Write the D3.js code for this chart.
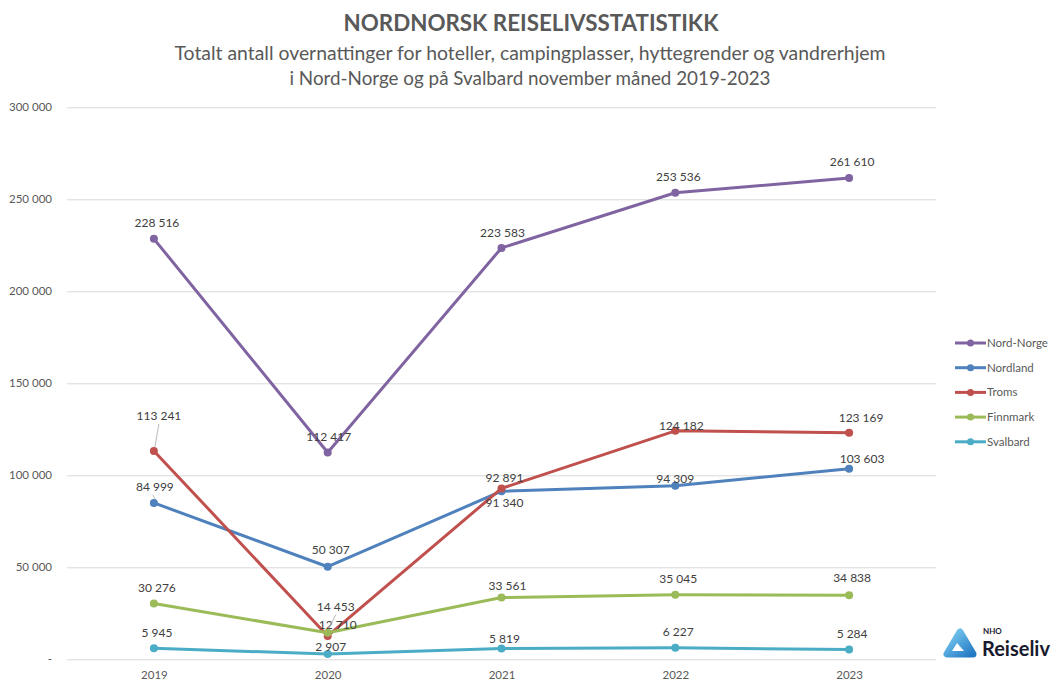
<!DOCTYPE html>
<html>
<head>
<meta charset="utf-8">
<script src="https://cdn.jsdelivr.net/npm/d3@7"></script>
<style>
  html, body { margin: 0; padding: 0; background: #ffffff; }
  svg { display: block; }
  text { font-family: Lato, "Open Sans", "DejaVu Sans", sans-serif; }
</style>
</head>
<body>
<svg id="chart" width="1060" height="689"></svg>
<script>
// ---------- DATA ----------
const years = ["2019", "2020", "2021", "2022", "2023"];
const seriesNames = ["Nord-Norge", "Nordland", "Troms", "Finnmark", "Svalbard"];
const nordNorge = [228516, 112417, 223583, 253536, 261610];
const nordland  = [84999, 50307, 91340, 94309, 103603];
const troms     = [113241, 12710, 92891, 124182, 123169];
const finnmark  = [30276, 14453, 33561, 35045, 34838];
const svalbard  = [5945, 2907, 5819, 6227, 5284];
const yTicks = [0, 50000, 100000, 150000, 200000, 250000, 300000];
const titleText = "NORDNORSK REISELIVSSTATISTIKK";
const subtitleLines = [
  "Totalt antall overnattinger for hoteller, campingplasser, hyttegrender og vandrerhjem",
  "i Nord-Norge og på Svalbard november måned 2019-2023"
];

// ---------- STYLE / LAYOUT ----------
const colors = ["#8064a2", "#4f81bd", "#c0504d", "#9bbb59", "#4bacc6"];
const allValues = [nordNorge, nordland, troms, finnmark, svalbard];
const series = seriesNames.map((name, i) => ({
  name, color: colors[i],
  values: years.map((y, j) => ({ year: y, value: allValues[i][j] }))
}));

// label offsets [dx, dy] of label centre relative to point (layout only)
const labelOffsets = [
  [[3,-16],[1,-16],[1,-15],[3,-16],[3,-16]],
  [[1,-16],[3,-17],[3,12],[0,-7],[13,-10]],
  [[5,-35],[10,-11],[3,-11],[6,-5],[12,-15]],
  [[3,-16],[8,-26],[6,-12],[3,-16],[3,-17]],
  [[3,-16],[3,-7],[3,-10],[3,-16],[3,-16]]
];
const leaders = { "2-0": true, "3-1": true, "1-0": true };

const svg = d3.select("#chart");
const plot = { left: 67, right: 936, top: 107.3, bottom: 659.3 };

const loc = d3.formatLocale({ decimal: ",", thousands: " ", grouping: [3], currency: ["", ""] });
const fmt = loc.format(",d");

const x = d3.scalePoint().domain(years).range([plot.left, plot.right]).padding(0.5);
const y = d3.scaleLinear().domain([0, 300000]).range([plot.bottom, plot.top]);

// ---------- TITLES ----------
svg.append("text")
  .attr("x", 531).attr("y", 30.5)
  .attr("text-anchor", "middle")
  .attr("font-size", 22).attr("font-weight", 700)
  .attr("fill", "#595959")
  .attr("textLength", 375).attr("lengthAdjust", "spacingAndGlyphs")
  .text(titleText);

const subW = [711, 481];
const subY = [59.5, 84.5];
subtitleLines.forEach((t, i) => {
  svg.append("text")
    .attr("x", 530).attr("y", subY[i])
    .attr("text-anchor", "middle")
    .attr("font-size", 19.5)
    .attr("fill", "#595959")
    .attr("textLength", subW[i]).attr("lengthAdjust", "spacingAndGlyphs")
    .text(t);
});

// ---------- GRID + AXES ----------
const yAxis = d3.axisLeft(y).tickValues(yTicks)
  .tickSize(-(plot.right - plot.left))
  .tickPadding(15)
  .tickFormat(d => d === 0 ? "-" : fmt(d));
const gy = svg.append("g").attr("transform", `translate(${plot.left},0)`).call(yAxis);
gy.select(".domain").remove();
gy.selectAll(".tick line").attr("stroke", "#d9d9d9").attr("stroke-width", 1);
gy.selectAll(".tick text").attr("fill", "#595959").attr("font-size", 11.5);

const xAxis = d3.axisBottom(x).tickSize(0).tickPadding(12);
const gx = svg.append("g").attr("transform", `translate(0,${plot.bottom})`).call(xAxis);
gx.select(".domain").remove();
gx.selectAll(".tick text").attr("fill", "#595959").attr("font-size", 11.5);

// ---------- LINES ----------
const line = d3.line().x(d => x(d.year)).y(d => y(d.value));
const gs = svg.append("g").selectAll("g").data(series).join("g");
gs.append("path")
  .attr("d", d => line(d.values))
  .attr("fill", "none")
  .attr("stroke", d => d.color)
  .attr("stroke-width", 3)
  .attr("stroke-linejoin", "round")
  .attr("stroke-linecap", "round");
gs.selectAll("circle").data(d => d.values.map(v => ({ ...v, color: d.color })))
  .join("circle")
  .attr("cx", d => x(d.year)).attr("cy", d => y(d.value))
  .attr("r", 4).attr("fill", d => d.color);

// ---------- DATA LABELS ----------
const gl = svg.append("g");
series.forEach((s, si) => {
  s.values.forEach((v, vi) => {
    const [dx, dy] = labelOffsets[si][vi];
    const px = x(v.year), py = y(v.value);
    const lx = px + dx, ly = py + dy;
    if (leaders[si + "-" + vi]) {
      gl.append("line")
        .attr("x1", lx + (si === 1 ? -2 : 0)).attr("y1", ly + 8)
        .attr("x2", px + 1).attr("y2", py - 4)
        .attr("stroke", "#a6a6a6").attr("stroke-width", 0.8);
    }
    gl.append("text")
      .attr("x", lx).attr("y", ly)
      .attr("dy", "0.35em")
      .attr("text-anchor", "middle")
      .attr("font-size", 12)
      .attr("fill", "#404040")
      .text(fmt(v.value));
  });
});

// ---------- LEGEND ----------
const lg = svg.append("g").attr("transform", "translate(955,343)");
const li = lg.selectAll("g").data(series).join("g")
  .attr("transform", (d, i) => `translate(0,${i * 24.7})`);
li.append("line").attr("x1", 0).attr("x2", 31).attr("y1", 0).attr("y2", 0)
  .attr("stroke", d => d.color).attr("stroke-width", 3);
li.append("circle").attr("cx", 15.5).attr("cy", 0).attr("r", 3.5).attr("fill", d => d.color);
li.append("text").attr("x", 32).attr("y", 0).attr("dy", "0.35em")
  .attr("font-size", 11.5).attr("fill", "#595959").text(d => d.name);

// ---------- LOGO ----------
const defs = svg.append("defs");
const grad = defs.append("linearGradient").attr("id", "lg1")
  .attr("x1", "0%").attr("y1", "0%").attr("x2", "100%").attr("y2", "100%");
grad.append("stop").attr("offset", "0%").attr("stop-color", "#7fd0f3");
grad.append("stop").attr("offset", "100%").attr("stop-color", "#2379c4");
const logo = svg.append("g");
logo.append("path")
  .attr("d", "M960,632 L947,654 L973,654 Z")
  .attr("fill", "url(#lg1)").attr("stroke", "url(#lg1)")
  .attr("stroke-width", 7).attr("stroke-linejoin", "round");
logo.append("path")
  .attr("d", "M957,643 L952,651 L964,651 Z")
  .attr("fill", "#ffffff");
logo.append("text").attr("x", 983).attr("y", 634)
  .attr("font-size", 8).attr("font-weight", 700).attr("fill", "#1a1a2e").text("NHO");
logo.append("text").attr("x", 982).attr("y", 656)
  .attr("font-size", 20).attr("font-weight", 700).attr("fill", "#1a1a2e")
  .attr("textLength", 68).attr("lengthAdjust", "spacingAndGlyphs").text("Reiseliv");
</script>
</body>
</html>
